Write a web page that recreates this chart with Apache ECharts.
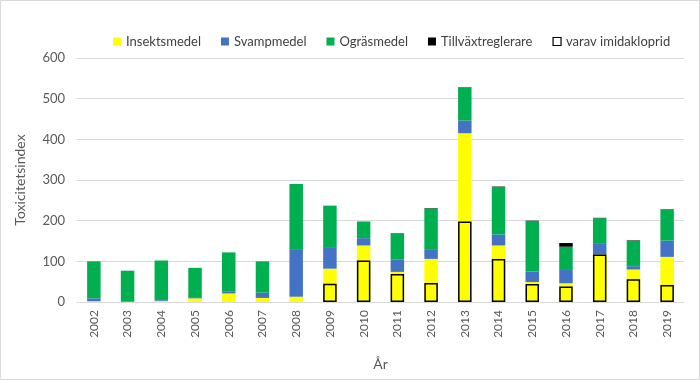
<!DOCTYPE html>
<html><head><meta charset="utf-8">
<script src="https://cdn.jsdelivr.net/npm/echarts@6/dist/echarts.min.js"></script>
<style>html,body{margin:0;padding:0;background:#fff}#c{width:700px;height:380px}</style>
</head><body><div id="c"></div>
<script>
const years = ['2002','2003','2004','2005','2006','2007','2008','2009','2010','2011','2012','2013','2014','2015','2016','2017','2018','2019'];
const insektsmedel = [2,0,3,9,21,10,13,82,139,74,106,415,139,49,46,117,80,111];
const svampmedel = [7,1,2,3,4,13,117,53,18,31,24,31,27,26,35,26,8,40];
const ograsmedel = [91,76,97,72,97,77,160,102,41,63,100,81,117,124,55,63,63,76];
const tillvaxt = [0,0,0,0,0,0,0,0,0,1,1,1,1,1,9,1,1,1];
const imidakloprid = ['-','-','-','-','-','-','-',45,102,69,47,198,106,44,38,117,56,42];
const yTicks = {min:0, max:600, interval:100};

const chart = echarts.init(document.getElementById('c'));
const font = 'Lato, "Open Sans", sans-serif';
const stacked = (name, data, color) => ({
  name, type:'bar', stack:'tot', data, barWidth:'40%',
  itemStyle:{color}, emphasis:{disabled:true}
});
chart.setOption({
  animation:false,
  textStyle:{fontFamily:font},
  graphic:[{type:'rect', shape:{x:0.5,y:0.5,width:699,height:379}, style:{fill:'none', stroke:'#d9d9d9', lineWidth:1}, silent:true}],
  legend:{
    top:30, left:108, itemWidth:8, itemHeight:8, itemGap:20,
    textStyle:{fontSize:13, color:'#404040', fontFamily:font},
    data:[
      {name:'Insektsmedel', icon:'rect'},
      {name:'Svampmedel', icon:'rect'},
      {name:'Ogräsmedel', icon:'rect'},
      {name:'Tillväxtreglerare', icon:'rect'},
      {name:'varav imidakloprid', icon:'rect', itemStyle:{color:'#fff', borderColor:'#000', borderWidth:1.2}}
    ]
  },
  grid:{left:77, right:16, top:58, bottom:78},
  xAxis:{
    type:'category', data:years, name:'År', nameLocation:'middle', nameGap:55,
    nameTextStyle:{fontSize:14, color:'#595959'},
    axisTick:{show:false},
    axisLine:{lineStyle:{color:'#d9d9d9'}},
    axisLabel:{rotate:90, fontSize:12, color:'#595959', margin:8}
  },
  yAxis:{
    type:'value', min:yTicks.min, max:yTicks.max, interval:yTicks.interval,
    name:'Toxicitetsindex', nameLocation:'middle', nameGap:50,
    nameTextStyle:{fontSize:14, color:'#595959'},
    axisLabel:{fontSize:13, color:'#595959', margin:12},
    splitLine:{lineStyle:{color:'#d9d9d9'}}
  },
  series:[
    stacked('Insektsmedel', insektsmedel, '#FFFF00'),
    stacked('Svampmedel', svampmedel, '#4472C4'),
    stacked('Ogräsmedel', ograsmedel, '#00B050'),
    stacked('Tillväxtreglerare', tillvaxt, '#000000'),
    {name:'varav imidakloprid', type:'bar', data:imidakloprid, barWidth:'40%', barGap:'-100%', z:5,
     itemStyle:{color:'rgba(0,0,0,0)', borderColor:'#000', borderWidth:1.5}, emphasis:{disabled:true}}
  ]
});
</script></body></html>
